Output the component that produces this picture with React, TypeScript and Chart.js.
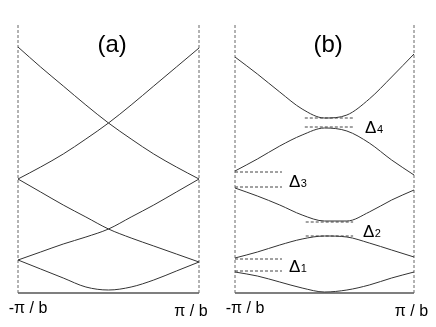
import React, { useEffect, useRef } from "react";
import Chart from "chart.js/auto";

// wave vector k in units of pi/b
const kPoints = [-1, -0.75, -0.5, -0.25, 0, 0.25, 0.5, 0.75, 1];
const zoneEdges = [-1, 1];
const tickLabels = ["-π / b", "π / b"];
const energyTop = 270;

// (a) free-electron bands (energy, arbitrary units)
const freeBand1 = [33, 24, 15, 6, 3, 6, 13, 22, 31];
const freeBand2 = [33, 41, 49, 56, 64, 76, 88, 101, 114];
const freeBand3 = [114, 101, 88, 76, 64, 55, 47, 39, 31];
const freeBand4 = [114, 126, 139, 154, 170, 188, 207, 226, 245];
const freeBand5 = [246, 226, 207, 188, 170, 154, 139, 126, 114];

// (b) nearly-free-electron bands with gaps
const gapBand1 = [21, 17, 11, 5, 1, 3, 8, 15, 21];
const gapBand2 = [35, 41, 48, 54, 57, 56, 50, 43, 36];
const gapBand3 = [105, 97, 88, 78, 72, 72, 81, 93, 103];
const gapBand4 = [122, 134, 147, 158, 165, 162, 150, 133, 118];
const gapBand5 = [236, 219, 201, 184, 175, 178, 194, 216, 239];

// gap markers: lower / upper energy, k-span, label
const gapLower = [22, 57, 106, 166];
const gapUpper = [34, 71, 121, 175];
const gapStartK = [-1, -0.21, -1, -0.22];
const gapEndK = [-0.475, 0.32, -0.475, 0.32];
const gapSubscripts = ["1", "2", "3", "4"];
const gapLabelK = [-0.397, 0.43, -0.397, 0.453];
const gapLabelE = [21, 56, 106, 160];

const panelTitles = ["(a)", "(b)"];
const titleK = 0.04;
const titleE = 248;

const FONT = "'Liberation Sans', Arial, Helvetica, sans-serif";
const LINE = "#333";
const DASH = "#666";

type PanelCfg = {
  title: string;
  bands: number[][];
  gaps: boolean;
  left: number;
  padding: { left: number; right: number; top: number; bottom: number };
  tickDx: number[];
  tickDy: number[];
};

const panels: PanelCfg[] = [
  {
    title: panelTitles[0],
    bands: [freeBand1, freeBand2, freeBand3, freeBand4, freeBand5],
    gaps: false,
    left: 0,
    padding: { left: 18, right: 19, top: 23, bottom: 34 },
    tickDx: [10, -8],
    tickDy: [16, 19],
  },
  {
    title: panelTitles[1],
    bands: [gapBand1, gapBand2, gapBand3, gapBand4, gapBand5],
    gaps: true,
    left: 218,
    padding: { left: 17, right: 22, top: 23, bottom: 34 },
    tickDx: [10, -2.5],
    tickDy: [16, 19],
  },
];

function Panel({ cfg }: { cfg: PanelCfg }) {
  const ref = useRef<HTMLCanvasElement | null>(null);
  useEffect(() => {
    if (!ref.current) return;
    const datasets: any[] = [];
    cfg.bands.forEach((b) => {
      datasets.push({
        data: kPoints.map((k, i) => ({ x: k, y: b[i] })),
        borderColor: LINE,
        borderWidth: 1,
        pointRadius: 0,
        cubicInterpolationMode: "monotone",
        clip: false,
      });
    });
    zoneEdges.forEach((k) => {
      datasets.push({
        data: [
          { x: k, y: 0 },
          { x: k, y: energyTop },
        ],
        borderColor: DASH,
        borderWidth: 1,
        borderDash: [3, 2],
        pointRadius: 0,
        clip: false,
      });
    });
    datasets.push({
      data: [
        { x: zoneEdges[0], y: 0 },
        { x: zoneEdges[1], y: 0 },
      ],
      borderColor: "#555",
      borderWidth: 1.5,
      pointRadius: 0,
      clip: false,
    });
    if (cfg.gaps) {
      gapLower.forEach((lo, i) => {
        [lo, gapUpper[i]].forEach((e) => {
          datasets.push({
            data: [
              { x: gapStartK[i], y: e },
              { x: gapEndK[i], y: e },
            ],
            borderColor: "#444",
            borderWidth: 1,
            borderDash: [3, 2],
            pointRadius: 0,
            clip: false,
          });
        });
      });
    }

    const textPlugin = {
      id: "texts",
      afterDatasetsDraw(chart: any) {
        const ctx = chart.ctx;
        const xs = chart.scales.x;
        const ys = chart.scales.y;
        const area = chart.chartArea;
        ctx.save();
        ctx.fillStyle = "#000";
        ctx.textAlign = "center";
        ctx.textBaseline = "middle";
        ctx.font = `24px ${FONT}`;
        ctx.fillText(cfg.title, xs.getPixelForValue(titleK), ys.getPixelForValue(titleE));
        ctx.font = `16px ${FONT}`;
        zoneEdges.forEach((k, i) => {
          ctx.fillText(
            tickLabels[i],
            xs.getPixelForValue(k) + cfg.tickDx[i],
            area.bottom + cfg.tickDy[i]
          );
        });
        if (cfg.gaps) {
          ctx.textAlign = "left";
          ctx.textBaseline = "alphabetic";
          gapSubscripts.forEach((s, i) => {
            const px = xs.getPixelForValue(gapLabelK[i]);
            const py = ys.getPixelForValue(gapLabelE[i]);
            ctx.font = `17px ${FONT}`;
            ctx.fillText("Δ", px, py);
            const w = ctx.measureText("Δ").width;
            ctx.font = `11px ${FONT}`;
            ctx.fillText(s, px + w + 0.5, py);
          });
        }
        ctx.restore();
      },
    };

    const chart = new Chart(ref.current, {
      type: "line",
      data: { datasets },
      options: {
        animation: false,
        responsive: false,
        devicePixelRatio: 1,
        layout: { padding: cfg.padding },
        plugins: { legend: { display: false }, tooltip: { enabled: false } },
        scales: {
          x: { type: "linear", min: -1, max: 1, display: false },
          y: { type: "linear", min: 0, max: energyTop, display: false },
        },
      },
      plugins: [textPlugin],
    });
    return () => chart.destroy();
  }, [cfg]);
  return (
    <canvas
      ref={ref}
      width={218}
      height={327}
      style={{ position: "absolute", left: cfg.left, top: 0, width: 218, height: 327 }}
    />
  );
}

export default function App() {
  return (
    <div
      style={{
        position: "absolute",
        left: 0,
        top: 0,
        width: 436,
        height: 327,
        background: "#fff",
        overflow: "hidden",
      }}
    >
      {panels.map((p, i) => (
        <Panel key={i} cfg={p} />
      ))}
    </div>
  );
}
